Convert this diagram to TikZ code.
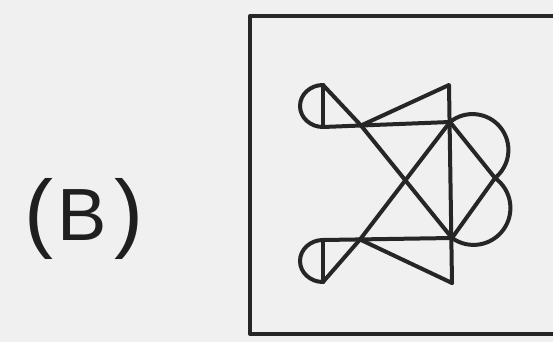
\documentclass[tikz,border=0pt]{standalone}
\usepackage{fontspec}
\setmainfont{Liberation Sans}
\begin{document}
\begin{tikzpicture}[x=1pt,y=-1pt,
  ink/.style={draw=black!85, line width=4pt, line join=round, line cap=round},
  lbl/.style={inner sep=0pt, anchor=base, text=black!88}]
\useasboundingbox (0,0) rectangle (553,342);
\fill[black!6] (0,0) rectangle (553,342);
\clip (0,0) rectangle (553,342);
% frame
\draw[ink, line cap=butt] (570,16) -- (250,16) -- (250,334) -- (570,334);
% label
\node[lbl, font=\fontsize{87}{90}\selectfont] (lp) at (38.5,241) {(};
\node[lbl, font=\fontsize{74}{78}\selectfont] (b) at (82.5,240) {B};
\node[lbl, font=\fontsize{87}{90}\selectfont] (rp) at (128.5,241) {)};
% key points
\coordinate (P1) at (323,85);
\coordinate (P2) at (323,127);
\coordinate (Q1) at (323,240);
\coordinate (Q2) at (323,282);
\coordinate (A) at (361,125.5);
\coordinate (B) at (360,239.5);
\coordinate (C) at (450,122);
\coordinate (D) at (452,238);
\coordinate (E) at (449,85);
\coordinate (G) at (452,283);
\coordinate (F) at (495,178);
% left loops
\draw[ink] (P1) arc[start angle=90, end angle=270, x radius=23pt, y radius=21pt];
\draw[ink] (P1) -- (P2);
\draw[ink] (Q1) arc[start angle=90, end angle=270, x radius=23pt, y radius=21pt];
\draw[ink] (Q1) -- (Q2);
% main lines
\draw[ink] (P2) -- (C);
\draw[ink] (P1) -- (A) -- (D);
\draw[ink] (A) -- (E) -- (G);
\draw[ink] (Q1) -- (D);
\draw[ink] (Q2) -- (B) -- (C);
\draw[ink] (B) -- (G);
% right lobes
\draw[ink] (C) -- (F) -- (D);
\draw[ink] (C) arc[start angle=128.8, end angle=-51.2, radius=35.9pt];
\draw[ink] (F) arc[start angle=54.4, end angle=-125.6, radius=36.9pt];
\end{tikzpicture}
\end{document}
